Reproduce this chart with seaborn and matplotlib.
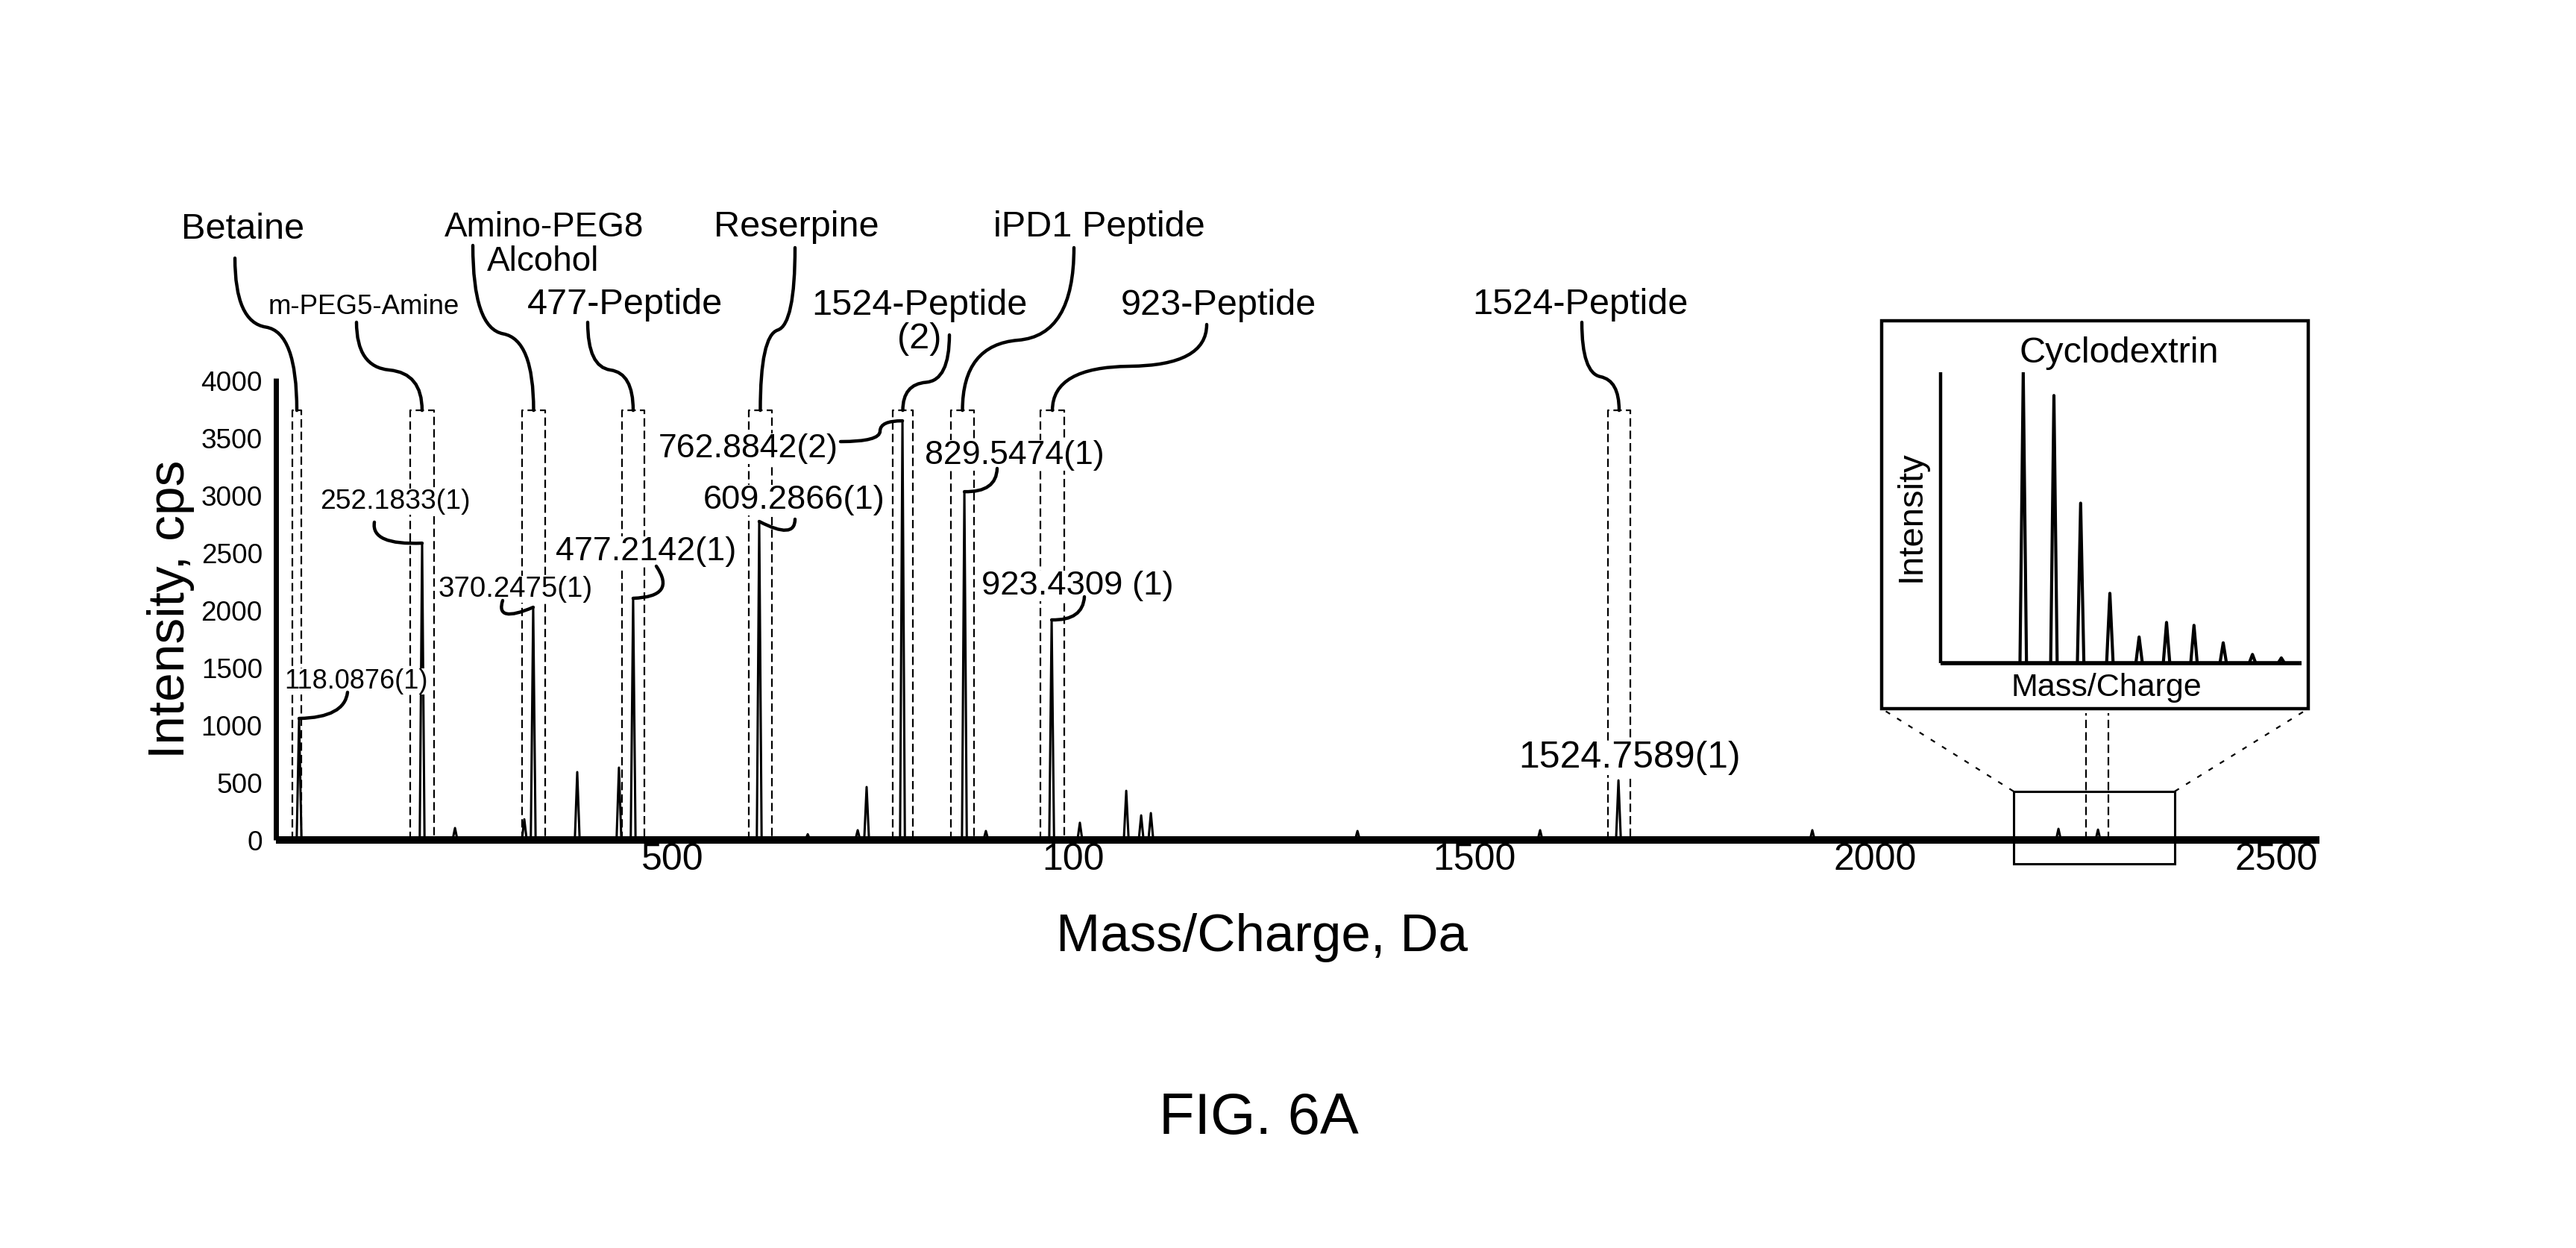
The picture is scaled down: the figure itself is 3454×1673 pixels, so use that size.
import matplotlib
matplotlib.use("Agg")
import matplotlib.pyplot as plt
from matplotlib import font_manager
from matplotlib.path import Path
from matplotlib.patches import PathPatch, Rectangle
from matplotlib.lines import Line2D
from matplotlib.transforms import IdentityTransform
import pandas as pd
import seaborn as sns

W, H, DPI = 3454, 1673, 100

# ---- data (m/z in axis units as drawn, intensity in cps) ----
labeled_mz = [34.8, 188.2, 326.7, 451.3, 608.5, 787.1, 864.3, 973.1, 1679.8]
labeled_cps = [1058, 2584, 2026, 2104, 2773, 3649, 3032, 1916, 519]
minor_mz = [229.2, 315.6, 381.6, 433.6, 669.0, 731.3, 742.4, 891.1, 1008.3,
            1066.1, 1084.7, 1096.8, 1242.6, 1354.4, 1582.1, 1921.5, 2228.4, 2277.7]
minor_cps = [104, 180, 591, 630, 50, 85, 461, 78, 150,
             428, 214, 234, 20, 78, 85, 85, 97, 90]

# dashed windows around each labelled compound
window_lo = [26.4, 173.3, 312.8, 437.4, 595.4, 775.0, 847.5, 959.1, 1666.7]
window_hi = [37.6, 203.0, 341.6, 465.3, 624.3, 800.0, 876.3, 988.9, 1694.6]
window_top = 3740

compound_names = ["Betaine", "m-PEG5-Amine", "Amino-PEG8", "477-Peptide", "Reserpine",
                  "1524-Peptide", "iPD1 Peptide", "923-Peptide", "1524-Peptide"]
compound_sub = ["", "", "Alcohol", "", "", "(2)", "", "", ""]
mass_labels = ["118.0876(1)", "252.1833(1)", "370.2475(1)", "477.2142(1)", "609.2866(1)",
               "762.8842(2)", "829.5474(1)", "923.4309 (1)", "1524.7589(1)"]

ytick_vals = [0, 500, 1000, 1500, 2000, 2500, 3000, 3500, 4000]
xtick_vals = [500, 1000, 1500, 2000, 2500]
xtick_text = ["500", "100", "1500", "2000", "2500"]

# cyclodextrin inset (relative units)
cd_pos = [22.9, 31.4, 38.8, 46.9, 55.0, 62.6, 70.2, 78.3, 86.4, 94.4]
cd_int = [1.0, 0.92, 0.55, 0.24, 0.09, 0.14, 0.13, 0.07, 0.03, 0.018]
cd_window = [2262.6, 2290.5]

# ---- layout (reference pixel positions, y measured downward) ----
name_xy = [(326, 320), (488, 421), (730, 317), (838, 421), (1068, 317),
           (1233, 422), (1474, 317), (1634, 422), (2119, 421)]
sub_xy = [None, None, (728, 363), None, None, (1233, 467), None, None, None]
name_size = [35, 31.4, 33, 35, 35, 35, 35, 35, 35]
name_narrow = [False, True, False, False, False, False, False, False, False]
name_leader = [((315, 346), 432, 445), ((478, 432), 492, 500), ((634, 329), 440, 455),
               ((788, 432), 492, 500), ((1066, 332), 435, 450), ((1273, 449), 510, 515),
               ((1440, 332), 450, 462), ((1618, 435), 490, 492), ((2121, 432), 500, 510)]

mass_xy = [(477, 923), (530, 682), (691, 800), (866, 751), (1065, 682),
           (1003, 613), (1360, 622), (1445, 797), (2185, 1029)]
mass_size = [31, 32, 33, 38.5, 38.8, 38.3, 38.3, 39, 36]
mass_narrow = [True, True, True, True, True, True, True, True, False]
mass_leader = [[(466, 928), (462, 962)], [(502, 700), (497, 731)], [(674, 805), (664, 836)],
               [(880, 759), (908, 800)], [(1066, 696), (1066, 724)],
               [(1127, 592), (1180, 592), (1180, 564)], [(1337, 628), (1336, 660)],
               [(1454, 800), (1452, 832)], None]

zoom_box = (2172.5, 2373.4, -208, 423)   # x0, x1, y0, y1 in data units
inset_frame = (2523, 430, 3095, 950)     # px

sns.set_style("white")
plt.rcParams["font.family"] = ["Liberation Sans", "DejaVu Sans"]
plt.rcParams["text.color"] = "black"
plt.rcParams["axes.labelcolor"] = "black"
plt.rcParams["xtick.color"] = "black"
plt.rcParams["ytick.color"] = "black"

fonts = {f.name for f in font_manager.fontManager.ttflist}
if "Liberation Sans Narrow" in fonts:
    NARROW, nscale = "Liberation Sans Narrow", 1.0
else:
    NARROW, nscale = "Liberation Sans", 0.84


def fx(x):
    return x / W


def fy(y):
    return 1 - y / H


def disp(x, y):
    return (x, H - y)


fig = plt.figure(figsize=(W / DPI, H / DPI), dpi=DPI)
fig.patch.set_facecolor("white")

ax = fig.add_axes([fx(370), fy(1126), (3110 - 370) / W, (1126 - 507) / H])

# spectrum drawn as narrow spikes
half = 3.0
xs, ys = [], []
for mz, cps in sorted(zip(labeled_mz + minor_mz, labeled_cps + minor_cps)):
    xs += [mz - half, mz, mz + half]
    ys += [0, cps, 0]
spec = pd.DataFrame({"mz": xs, "cps": ys})
sns.lineplot(data=spec, x="mz", y="cps", sort=False, estimator=None,
             color="black", lw=2.2, ax=ax)

ax.set_xlim(5.95, 2553.8)
ax.set_ylim(0, 4020)
ax.set_xlabel("")
ax.set_ylabel("")
for s in ("top", "right"):
    ax.spines[s].set_visible(False)
ax.spines["bottom"].set_linewidth(7.2)
ax.spines["left"].set_linewidth(5)
for s in ("bottom", "left"):
    ax.spines[s].set_color("black")
    ax.spines[s].set_capstyle("butt")
ax.tick_params(length=0, colors="black")
ax.set_xticks(xtick_vals, xtick_text, fontsize=36)
ax.set_yticks(ytick_vals, [str(v) for v in ytick_vals],
              fontsize=31.6 * nscale, fontfamily=NARROW)
ax.tick_params(axis="x", pad=3)
ax.tick_params(axis="y", pad=13)

# dashed windows
for lo, hi in zip(window_lo, window_hi):
    ax.plot([lo, lo, hi, hi], [0, window_top, window_top, 0],
            color="black", lw=1.6, ls=(0, (5, 2.5)))

# zoom box for cyclodextrin + its window
zx0, zx1, zy0, zy1 = zoom_box
ax.add_patch(Rectangle((zx0, zy0), zx1 - zx0, zy1 - zy0, fill=False, lw=2.2,
                       ec="black", clip_on=False, zorder=3))
ax.vlines(cd_window, 0, 1104, colors="black", lw=1.6, linestyles=(0, (5, 2.5)),
          clip_on=False)


def leader(pts, lw=3.2):
    verts, codes = [pts[0]], [Path.MOVETO]
    for i in range(1, len(pts) - 1):
        if i == len(pts) - 2:
            nxt = pts[i + 1]
        else:
            nxt = ((pts[i][0] + pts[i + 1][0]) / 2, (pts[i][1] + pts[i + 1][1]) / 2)
        verts += [pts[i], nxt]
        codes += [Path.CURVE3, Path.CURVE3]
    fig.add_artist(PathPatch(Path(verts, codes), fill=False, lw=lw, ec="black",
                             capstyle="round", transform=IdentityTransform(), zorder=4))


# compound names + curly leaders to window tops
for i, name in enumerate(compound_names):
    x, y = name_xy[i]
    fam = NARROW if name_narrow[i] else "Liberation Sans"
    size = name_size[i] * (nscale if name_narrow[i] else 1.0)
    fig.text(fx(x), fy(y), name, ha="center", va="baseline", fontsize=size, family=fam,
             color="black")
    if sub_xy[i]:
        sx, sy = sub_xy[i]
        fig.text(fx(sx), fy(sy), compound_sub[i], ha="center", va="baseline",
                 fontsize=size, color="black")
    (sx, sy), y1, y2 = name_leader[i]
    ex, ey = ax.transData.transform(((window_lo[i] + window_hi[i]) / 2, window_top))
    leader([disp(sx, sy), disp(sx, y1), (ex, H - y2), (ex, ey)])

# accurate-mass labels + leaders to peak tips
for i, lab in enumerate(mass_labels):
    x, y = mass_xy[i]
    fam = NARROW if mass_narrow[i] else "Liberation Sans"
    size = mass_size[i] * (nscale if mass_narrow[i] else 1.0)
    fig.text(fx(x), fy(y), lab, ha="center", va="baseline", fontsize=size, family=fam,
             color="black", bbox=dict(facecolor="white", edgecolor="none", pad=0))
    if mass_leader[i]:
        tip = tuple(ax.transData.transform((labeled_mz[i], labeled_cps[i])))
        leader([disp(px, py) for px, py in mass_leader[i]] + [tip])

# axis titles and caption
fig.text(fx(229), fy(817), "Intensity, cps", rotation=90, ha="center", va="center",
         fontsize=50, color="black")
fig.text(fx(1692), fy(1275), "Mass/Charge, Da", ha="center", va="baseline",
         fontsize=51, color="black")
fig.text(fx(1688), fy(1520), "FIG. 6A", ha="center", va="baseline", fontsize=56,
         color="black")

# inset
left, top, right, bottom = inset_frame
fig.add_artist(Rectangle((fx(left), fy(bottom)), (right - left) / W, (bottom - top) / H,
                         transform=fig.transFigure, fill=False, lw=3.2, ec="black"))
for corner_x, frame_x in ((zx0, left), (zx1, right)):
    p0 = tuple(ax.transData.transform((corner_x, zy1)))
    p1 = disp(frame_x, bottom)
    fig.add_artist(Line2D([p0[0], p1[0]], [p0[1], p1[1]], lw=1.6, color="black",
                          ls=(0, (3, 5)), transform=IdentityTransform()))

inset = fig.add_axes([fx(2602), fy(889), 484 / W, 390 / H])
ihalf = 0.9
cx, cy = [], []
for p, v in zip(cd_pos, cd_int):
    cx += [p - ihalf, p, p + ihalf]
    cy += [0, v, 0]
cd = pd.DataFrame({"pos": cx, "inten": cy})
sns.lineplot(data=cd, x="pos", y="inten", sort=False, estimator=None,
             color="black", lw=3.0, ax=inset)
inset.set_xlim(0, 100)
inset.set_ylim(0, 1.0)
inset.set_xticks([])
inset.set_yticks([])
inset.set_xlabel("")
inset.set_ylabel("")
for s in ("top", "right"):
    inset.spines[s].set_visible(False)
inset.spines["left"].set_linewidth(3.2)
inset.spines["bottom"].set_linewidth(4)
for s in ("left", "bottom"):
    inset.spines[s].set_color("black")
    inset.spines[s].set_capstyle("butt")
inset.patch.set_alpha(0)

fig.text(fx(2841), fy(486), "Cyclodextrin", ha="center", va="baseline", fontsize=35,
         color="black")
fig.text(fx(2563), fy(692), "Intensity", rotation=90, ha="center", va="center",
         fontsize=34, color="black")
fig.text(fx(2824), fy(933), "Mass/Charge", ha="center", va="baseline", fontsize=31,
         color="black")

fig.savefig("out.png", dpi=DPI, facecolor="white")
